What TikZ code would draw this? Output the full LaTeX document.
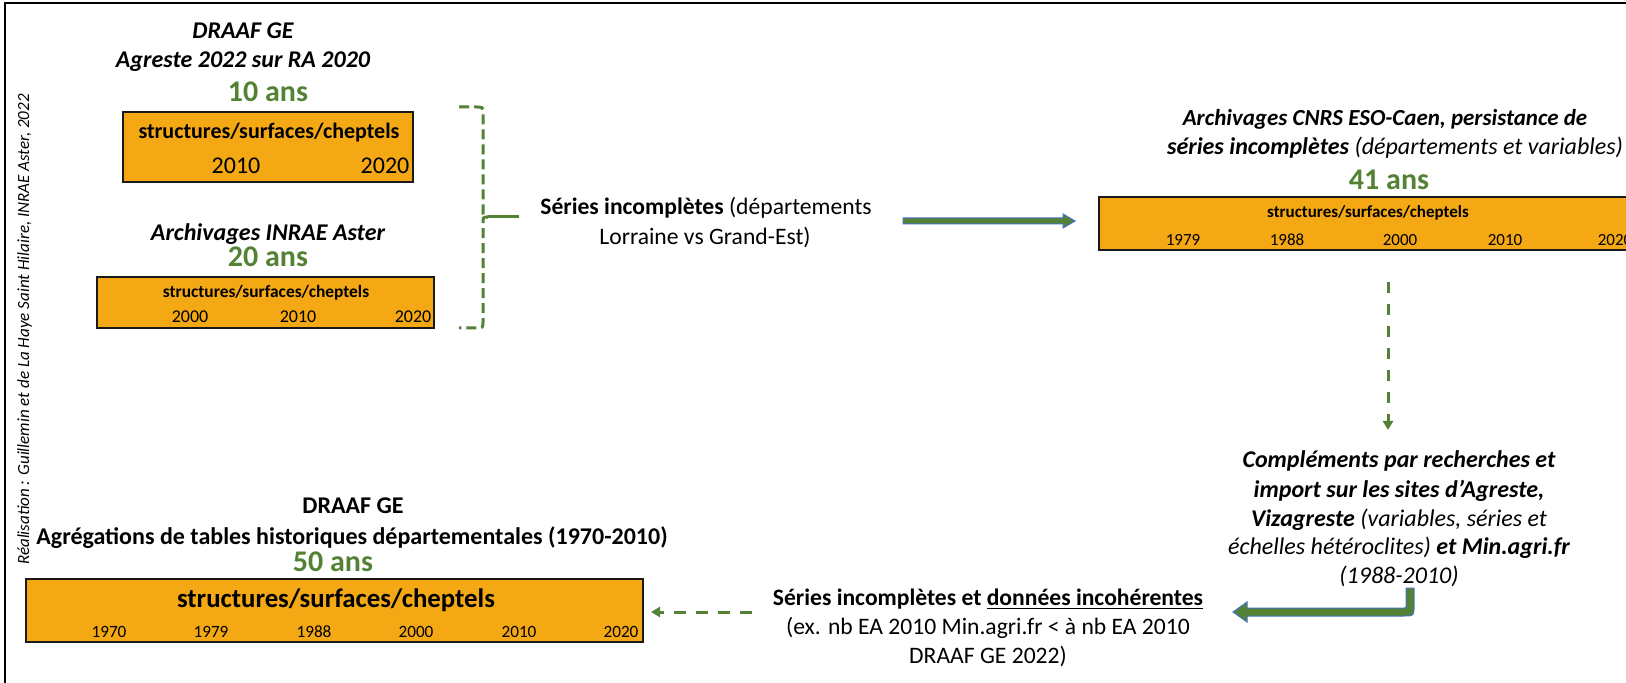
\documentclass[tikz,border=0pt]{standalone}
\usepackage{fontspec}
\setmainfont{Carlito}
\usetikzlibrary{arrows.meta,calc}
\definecolor{agreen}{RGB}{84,130,53}
\definecolor{aorange}{RGB}{243,168,20}
\definecolor{ablue}{RGB}{68,114,196}
\newcommand{\myfs}[1]{\fontsize{#1pt}{#1pt}\selectfont}
\tikzset{
  txt/.style={inner sep=0pt, anchor=base},
  ttl/.style={txt, font=\myfs{12}\bfseries\itshape},
  ans/.style={txt, font=\myfs{15}\bfseries, text=agreen},
  obox/.style={draw=black!90, line width=1pt, fill=aorange, inner sep=0pt},
  yr/.style={txt, font=\myfs{#1}},
  boxlbl/.style={txt, font=\myfs{#1}\bfseries},
  body/.style={txt, font=\myfs{11.8}},
  bracestyle/.style={agreen, line width=1.5pt, dash pattern=on 5pt off 2.5pt},
  dasharrow/.style={agreen, line width=1.5pt, dash pattern=on 5.5pt off 5.5pt, -{Triangle[length=4.5pt,width=5pt]}},
  blockarrow/.style={fill=agreen, draw=ablue, line width=0.5pt},
}
\begin{document}
\begin{tikzpicture}[x=0.5pt,y=-0.5pt]
\useasboundingbox (0,0) rectangle (1626,683);
\clip (0,0) rectangle (1626,683);
\fill[white] (0,0) rectangle (1626,683);
% frame
\draw[line width=1pt, black] (4.5,720) -- (4.5,3.5) -- (1700,3.5);

% credit
\node[txt, font=\myfs{8.5}\itshape, rotate=90] (cred) at (29,329.5) {Réalisation : Guillemin et de La Haye Saint Hilaire, INRAE Aster, 2022};

% top-left block 1
\node[ttl] (t1a) at (243,39) {DRAAF GE};
\node[ttl] (t1b) at (243,68) {Agreste 2022 sur RA 2020};
\node[ans] (t1c) at (268,102) {10 ans};
\node[obox, minimum width=145pt, minimum height=35pt] (b1) at (268,147) {};
\node[boxlbl=11] (b1t) at (269,139) {structures/surfaces/cheptels};
\node[yr=12] (b1y1) at (236,174) {2010};
\node[yr=12] (b1y2) at (385,174) {2020};

% top-left block 2
\node[ttl] (t2a) at (268,241) {Archivages INRAE Aster};
\node[ans] (t2b) at (268,267) {20 ans};
\node[obox, minimum width=168.5pt, minimum height=25.5pt] (b2) at (265.5,302.5) {};
\node[boxlbl=8.7] (b2t) at (266,298) {structures/surfaces/cheptels};
\node[yr=9] (b2y1) at (190,323) {2000};
\node[yr=9] (b2y2) at (298,323) {2010};
\node[yr=9] (b2y3) at (413,323) {2020};

% brace
\coordinate (brtop) at (459,107);
\coordinate (brbot) at (459,328);
\coordinate (brmid) at (488,217);
\coordinate (brtip) at (519,217);
\draw[bracestyle] (brtop) -- (476,107) .. controls (483,107) .. (483,114) -- (483,210) .. controls (483,217) .. (brmid);
\draw[bracestyle] (brmid) .. controls (483,217) .. (483,224) -- (483,321) .. controls (483,328) .. (476,328) -- (brbot);
\draw[agreen, line width=1.5pt] (brmid) -- (brtip);

% middle text
\node[body] (s1a) at (706,215) {\textbf{Séries incomplètes} (départements};
\node[body] (s1b) at (705,245) {Lorraine vs Grand-Est)};

% arrow 1
\coordinate (a1s) at (903,221);
\coordinate (a1e) at (1075,221);
\filldraw[blockarrow] ($(a1s)+(0,-3)$) -- ($(a1e)+(-12,-3)$) -- ($(a1e)+(-12,-7)$) -- (a1e) -- ($(a1e)+(-12,7)$) -- ($(a1e)+(-12,3)$) -- ($(a1s)+(0,3)$) -- cycle;

% right block
\node[ttl, font=\myfs{11.5}\bfseries\itshape] (r1) at (1385,126) {Archivages CNRS ESO-Caen, persistance de};
\node[ttl] (r2) at (1395,155) {séries incomplètes \textmd{(départements et variables)}};
\node[ans] (r3) at (1389,190) {41 ans};
\node[obox, minimum width=270.5pt, minimum height=26.5pt] (b3) at (1369.5,223.5) {};
\node[boxlbl=8.5] (b3t) at (1368,218) {structures/surfaces/cheptels};
\node[yr=8.5] (b3y1) at (1183,246) {1979};
\node[yr=8.5] (b3y2) at (1287,246) {1988};
\node[yr=8.5] (b3y3) at (1400,246) {2000};
\node[yr=8.5] (b3y4) at (1505,246) {2010};
\node[yr=8.5] (b3y5) at (1615,246) {2020};

% vertical dashed arrow
\coordinate (v1s) at (1388,282);
\coordinate (v1e) at (1388,430);
\draw[dasharrow] (v1s) -- (v1e);

% complements
\node[txt, font=\myfs{12}\itshape] (c1) at (1399,468) {\bfseries Compléments par recherches et};
\node[txt, font=\myfs{12}\itshape] (c2) at (1399,497) {\bfseries import sur les sites d’Agreste,};
\node[txt, font=\myfs{12}\itshape] (c3) at (1399,526) {\textbf{Vizagreste} (variables, séries et};
\node[txt, font=\myfs{12}\itshape] (c4) at (1399,554) {échelles hétéroclites) \textbf{et Min.agri.fr}};
\node[txt, font=\myfs{12}\itshape] (c5) at (1399,583) {(1988-2010)};

% bent arrow
\coordinate (a2s) at (1410,588);
\coordinate (a2e) at (1233,612);
\filldraw[blockarrow] ($(a2s)+(-4,0)$) -- ($(a2s)+(4,0)$) -- ($(a2s)+(4,18)$) .. controls ($(a2s)+(4,28)$) .. ($(a2s)+(-6,28)$) -- ($(a2e)+(14,4)$) -- ($(a2e)+(14,10)$) -- (a2e) -- ($(a2e)+(14,-10)$) -- ($(a2e)+(14,-4)$) -- ($(a2s)+(-6,20)$) .. controls ($(a2s)+(-4,20)$) .. ($(a2s)+(-4,18)$) -- cycle;

% bottom text
\node[txt, font=\myfs{11.8}\bfseries] (d1) at (988,605) {Séries incomplètes et \underline{données incohérentes}};
\node[txt, font=\myfs{11.8}] (d2) at (988,634) {(ex. nb EA 2010 Min.agri.fr < à nb EA 2010};
\node[txt, font=\myfs{11.8}] (d3) at (988,663) {DRAAF GE 2022)};

% dashed left arrow
\coordinate (a3s) at (752,612);
\coordinate (a3e) at (651,612);
\draw[dasharrow, dash pattern=on 6pt off 5pt] (a3s) -- (a3e);

% bottom-left block
\node[txt, font=\myfs{12}\bfseries] (g1) at (353,514) {DRAAF GE};
\node[txt, font=\myfs{12}\bfseries] (g2) at (352,545) {Agrégations de tables historiques départementales (1970-2010)};
\node[ans] (g3) at (333,571) {50 ans};
\node[obox, minimum width=308.5pt, minimum height=31.5pt] (b4) at (334.5,610.5) {};
\node[boxlbl=13.4] (b4t) at (336,607) {structures/surfaces/cheptels};
\node[yr=8.6] (b4y1) at (109,637) {1970};
\node[yr=8.6] (b4y2) at (211,637) {1979};
\node[yr=8.6] (b4y3) at (314,637) {1988};
\node[yr=8.6] (b4y4) at (416,637) {2000};
\node[yr=8.6] (b4y5) at (519,637) {2010};
\node[yr=8.6] (b4y6) at (621,637) {2020};
\end{tikzpicture}
\end{document}
